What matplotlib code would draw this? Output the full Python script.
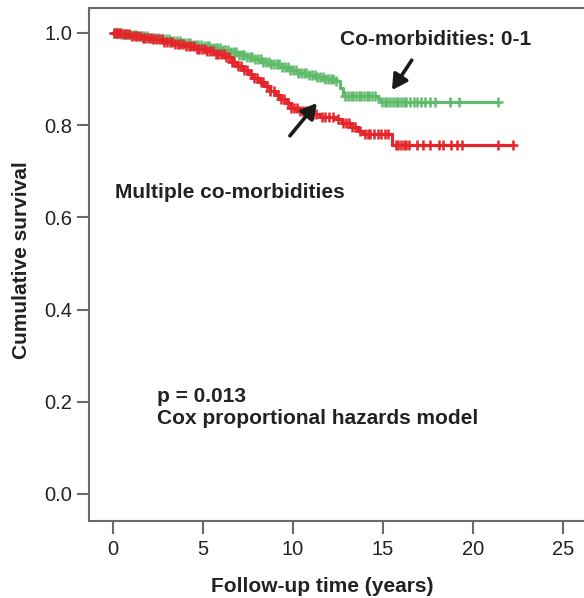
import numpy as np
import matplotlib
matplotlib.use("Agg")
import matplotlib.pyplot as plt

plt.rcParams['font.family'] = ['Liberation Sans', 'DejaVu Sans']

# Co-morbidities 0-1 (green) step curve
green_t = [0, 0.4, 0.9, 1.4, 2.0, 2.6, 3.2, 3.8, 4.4, 5.0, 5.5, 6.0, 6.5, 7.0, 7.4, 7.8, 8.3, 8.8,
           9.3, 9.8, 10.3, 10.8, 11.3, 11.8, 12.3, 12.6, 12.8, 14.7, 14.9, 21.4]
green_s = [1.0, 0.998, 0.996, 0.993, 0.990, 0.987, 0.983, 0.979, 0.975, 0.971, 0.967, 0.963, 0.958,
           0.953, 0.948, 0.943, 0.938, 0.932, 0.926, 0.920, 0.914, 0.909, 0.904, 0.900, 0.895, 0.880,
           0.863, 0.856, 0.850, 0.850]
green_cens = [0.05, 0.15, 0.25, 0.35, 0.45, 0.55, 0.7, 0.85, 1.0, 1.15, 1.3, 1.45, 1.6, 1.75, 1.9,
              2.05, 2.2, 2.35, 2.5, 2.65, 2.8, 2.95, 3.1, 3.25, 3.4, 3.55, 3.7, 3.85, 4.0, 4.15, 4.3,
              4.45, 4.6, 4.75, 4.9, 5.05, 5.2, 5.35, 5.5, 5.65, 5.8, 5.95, 6.1, 6.25, 6.4, 6.55, 6.7,
              6.85, 7.0, 7.15, 7.3, 7.45, 7.6, 7.75, 7.9, 8.05, 8.2, 8.35, 8.5, 8.65, 8.8, 8.95, 9.1,
              9.25, 9.4, 9.55, 9.7, 9.85, 10.0, 10.15, 10.3, 10.45, 10.6, 10.75, 10.9, 11.05, 11.2,
              11.35, 11.5, 11.65, 11.8, 11.95, 12.1, 12.25, 12.4, 12.9, 13.05, 13.2, 13.35, 13.5,
              13.65, 13.8, 13.95, 14.1, 14.25, 14.4, 14.55, 14.95, 15.1, 15.25, 15.4, 15.55, 15.7,
              15.85, 16.0, 16.15, 16.3, 16.5, 16.7, 16.9, 17.1, 17.35, 17.6, 17.9, 18.7, 19.2, 21.4]

# Multiple co-morbidities (red) step curve
red_t = [0, 0.5, 1.0, 1.6, 2.2, 2.8, 3.4, 4.0, 4.6, 5.2, 5.7, 6.2, 6.6, 6.9, 7.2, 7.5, 7.8, 8.1,
         8.4, 8.7, 9.0, 9.3, 9.6, 9.9, 10.3, 10.8, 11.5, 12.4, 12.7, 13.2, 13.6, 13.9, 15.5, 22.2]
red_s = [1.0, 0.997, 0.994, 0.990, 0.986, 0.981, 0.976, 0.971, 0.966, 0.960, 0.954, 0.947, 0.938,
         0.929, 0.920, 0.911, 0.902, 0.893, 0.884, 0.875, 0.866, 0.857, 0.848, 0.838, 0.830, 0.824,
         0.818, 0.813, 0.805, 0.797, 0.788, 0.780, 0.757, 0.757]
red_cens = [0.05, 0.15, 0.25, 0.35, 0.45, 0.6, 0.75, 0.9, 1.05, 1.2, 1.35, 1.5, 1.65, 1.8, 1.95,
            2.1, 2.25, 2.4, 2.55, 2.7, 2.85, 3.0, 3.15, 3.3, 3.45, 3.6, 3.75, 3.9, 4.05, 4.2, 4.35,
            4.5, 4.65, 4.8, 4.95, 5.1, 5.25, 5.4, 5.55, 5.7, 5.85, 6.0, 6.15, 6.3, 6.45, 6.6, 6.75,
            6.95, 7.1, 7.3, 7.45, 7.65, 7.85, 8.0, 8.2, 8.35, 8.55, 8.75, 8.95, 9.15, 9.35, 9.5,
            9.7, 9.9, 10.05, 10.2, 10.4, 10.55, 10.7, 10.9, 11.1, 11.3, 11.6, 11.8, 12.0, 12.2,
            12.5, 12.8, 12.95, 13.1, 13.3, 13.45, 13.75, 14.0, 14.15, 14.3, 14.5, 14.7, 14.9, 15.1,
            15.3, 15.7, 15.85, 16.0, 16.15, 16.3, 16.45, 16.9, 17.2, 17.6, 18.1, 18.35, 18.8,
            19.1, 19.4, 21.4, 22.2]

xticks = [0, 5, 10, 15, 20, 25]
yticks = [0.0, 0.2, 0.4, 0.6, 0.8, 1.0]

GREEN = '#62bb6c'
RED = '#e4262c'
FRAME = '#6a6a6a'
TXT = '#222222'


def surv_at(times, st, ss):
    idx = np.searchsorted(np.asarray(st), np.asarray(times), side='right') - 1
    return np.asarray(ss)[idx]


fig = plt.figure(figsize=(5.84, 5.98), dpi=100)
ax = fig.add_axes([89 / 584, 77 / 598, 495 / 584, 513 / 598])

for st, ss, cens, col in [(green_t, green_s, green_cens, GREEN), (red_t, red_s, red_cens, RED)]:
    ax.step(st, ss, where='post', color=col, lw=2.3)
    ax.plot(cens, surv_at(cens, st, ss), linestyle='none', marker='+', ms=7, mew=1.8, color=col)

ax.set_xlim(-1.333, 26.17)
ax.set_ylim(-0.0586, 1.0542)
ax.set_xticks(xticks)
ax.set_xticklabels([str(v) for v in xticks])
ax.set_yticks(yticks)
ax.set_yticklabels([f"{v:.1f}" for v in yticks])
ax.tick_params(axis='both', direction='out', length=9, width=1.5, color=FRAME,
               labelsize=14.5, labelcolor=TXT, pad=3)
ax.tick_params(axis='x', pad=5)
for side in ['left', 'bottom', 'top']:
    ax.spines[side].set_color(FRAME)
    ax.spines[side].set_linewidth(1.5)
ax.spines['right'].set_visible(False)

fig.text(322 / 584, 1 - 592 / 598, 'Follow-up time (years)', ha='center', va='baseline',
         fontsize=15, fontweight='bold', color=TXT)
fig.text(22 / 584, 1 - 260 / 598, 'Cumulative survival', ha='center', va='center',
         rotation=90, fontsize=15, fontweight='bold', color=TXT)

ax.text(12.6, 0.974, 'Co-morbidities: 0-1', ha='left', va='baseline', fontsize=15,
        fontweight='bold', color=TXT)
ax.text(0.1, 0.642, 'Multiple co-morbidities', ha='left', va='baseline', fontsize=15,
        fontweight='bold', color=TXT)
ax.text(2.44, 0.1995, 'p = 0.013', ha='left', va='baseline', fontsize=15,
        fontweight='bold', color=TXT)
ax.text(2.44, 0.1518, 'Cox proportional hazards model', ha='left', va='baseline', fontsize=15,
        fontweight='bold', color=TXT)

arrow_kw = dict(arrowstyle='-|>,head_length=0.9,head_width=0.5', color='#1a1a1a', lw=2.6,
                shrinkA=0, shrinkB=0)
ax.annotate('', xy=(15.5, 0.876), xytext=(16.6, 0.941), arrowprops=arrow_kw)
ax.annotate('', xy=(11.33, 0.848), xytext=(9.83, 0.777), arrowprops=arrow_kw)

fig.savefig('out.png', dpi=100)
